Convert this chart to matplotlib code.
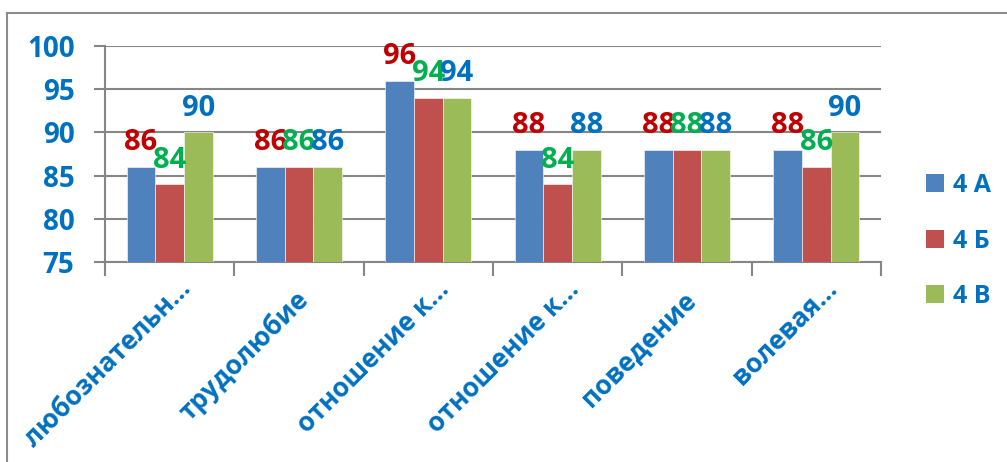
import numpy as np
import matplotlib.pyplot as plt
from matplotlib.patches import Patch, Rectangle
import matplotlib.transforms as mtransforms

plt.rcParams["font.family"] = ["Open Sans", "DejaVu Sans"]
plt.rcParams["font.weight"] = "bold"

categories = ["любознательн…", "трудолюбие", "отношение к…", "отношение к…", "поведение", "волевая…"]
series = ["4 А", "4 Б", "4 В"]
vals_a = [86, 86, 96, 88, 88, 88]
vals_b = [84, 86, 94, 84, 88, 86]
vals_v = [90, 86, 94, 88, 88, 90]

bar_colors = ["#4F81BD", "#C0504D", "#9BBB59"]
label_colors = ["#C00000", "#00B050", "#0070C0"]
text_blue = "#0070C0"
grid_gray = "#868686"

fig = plt.figure(figsize=(10.07, 4.62), dpi=100)
ax = fig.add_axes([105 / 1007, 1 - 262 / 462, 776 / 1007, 216 / 462])

# chart area border (cut off at right and bottom)
fig.patches.append(Rectangle((7 / 1007, -0.1), 1.2, 1 - 13 / 462 + 0.1, transform=fig.transFigure,
                             fill=False, edgecolor="#8C8C8C", linewidth=1.5))

x = np.arange(len(categories))
w = 1 / 4.5
for k, vals in enumerate([vals_a, vals_b, vals_v]):
    pos = x + (k - 1) * w
    ax.bar(pos, np.array(vals) - 75, bottom=75, width=w, color=bar_colors[k],
           edgecolor="white", linewidth=0.4, zorder=3)
    for px, v in zip(pos, vals):
        ax.annotate(str(v), (px, v), xytext=(0, 7), textcoords="offset points",
                    ha="center", va="bottom", color=label_colors[k], fontsize=21,
                    fontweight="bold", zorder=4)

ax.set_xlim(-0.5, len(categories) - 0.5)
ax.set_ylim(75, 100)
ax.set_yticks(np.arange(75, 101, 5))
ax.yaxis.grid(True, color=grid_gray, linewidth=1.5, zorder=0)
ax.tick_params(axis="y", length=8, width=1.5, color=grid_gray, labelsize=20,
               labelcolor=text_blue, pad=14)
for lbl in ax.get_yticklabels():
    lbl.set_fontweight("bold")

ax.set_xticks(x)
ax.set_xticks(np.arange(-0.5, len(categories), 1), minor=True)
ax.tick_params(axis="x", which="major", length=0, labelsize=19, labelcolor=text_blue)
ax.tick_params(axis="x", which="minor", length=10, width=1.5, color=grid_gray)
ax.set_xticklabels(categories, rotation=45, ha="right", va="center",
                   rotation_mode="anchor", fontweight="bold")
for lbl in ax.get_xticklabels():
    if lbl.get_text().endswith("…"):
        dx, dy = 0.17, -0.18
    else:
        dx, dy = 0.05, -0.29
    lbl.set_transform(lbl.get_transform() + mtransforms.ScaledTranslation(dx, dy, fig.dpi_scale_trans))

for side in ["top", "right"]:
    ax.spines[side].set_visible(False)
for side in ["left", "bottom"]:
    ax.spines[side].set_color(grid_gray)
    ax.spines[side].set_linewidth(1.5)

handles = [Patch(facecolor=c) for c in bar_colors]
leg = fig.legend(handles, series, loc="center left", bbox_to_anchor=(926 / 1007, 1 - 241 / 462),
                 frameon=False, handlelength=0.72, handleheight=0.72, borderpad=0,
                 borderaxespad=0, handletextpad=0.35, labelspacing=1.22, labelcolor=text_blue,
                 prop={"family": ["Open Sans", "DejaVu Sans"], "weight": "bold", "size": 18})

fig.savefig("out.png", dpi=100)
